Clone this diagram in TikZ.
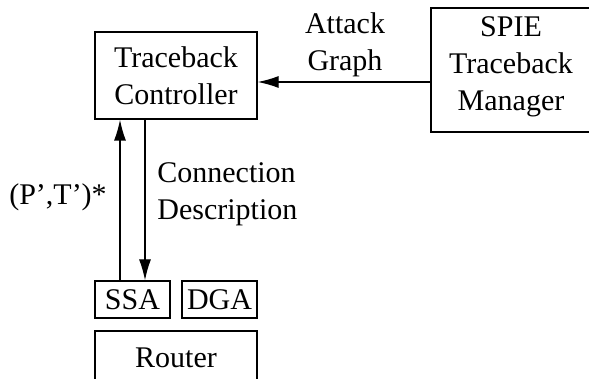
\documentclass[tikz,border=0pt]{standalone}
\usepackage{fontspec}
\setmainfont{Liberation Serif}
\usetikzlibrary{arrows.meta,calc}

\begin{document}
\begin{tikzpicture}[x=0.5pt,y=-0.5pt, font=\fontsize{15}{18.5}\selectfont,
    box/.style={draw, line width=0.65pt, inner sep=0pt, align=center},
    link/.style={line width=0.65pt, -{Latex[length=10.5pt,width=6pt]}}]
    % page size of the reference, in pixels
    \useasboundingbox (0,0) rectangle (589,379);
    \node[box, minimum width=81pt, minimum height=43.5pt] (ctrl) at (176,75.5) {Traceback\\Controller};
    \node[box, minimum width=80pt, minimum height=62pt, text depth=6.3pt] (spie) at (511,70) {SPIE\\Traceback\\Manager};
    \node[box, minimum width=37.5pt, minimum height=18.5pt] (ssa) at (132.5,299.5) {SSA};
    \node[box, minimum width=37.5pt, minimum height=18.5pt] (dga) at (219.5,299.5) {DGA};
    \node[box, minimum width=81pt, minimum height=27pt] (router) at (176,358) {Router};
    % messages
    \draw[link] ($(spie.west |- ctrl.east)+(0,6.5)$) -- ($(ctrl.east)+(0,6.5)$);
    \draw[link] ($(ssa.north)+(-12.5,0)$) -- ($(ssa.north |- ctrl.south)+(-12.5,0)$);
    \draw[link] ($(ssa.north |- ctrl.south)+(12.5,0)$) -- ($(ssa.north)+(12.5,0)$);
    \node[align=center] (graph) at (345,45) {Attack\\Graph};
    \node (pairs) at (58,197) {(P',T')*};
    \node[align=left, anchor=west, inner sep=0pt] (desc) at (157,194) {Connection\\Description};
\end{tikzpicture}
\end{document}
